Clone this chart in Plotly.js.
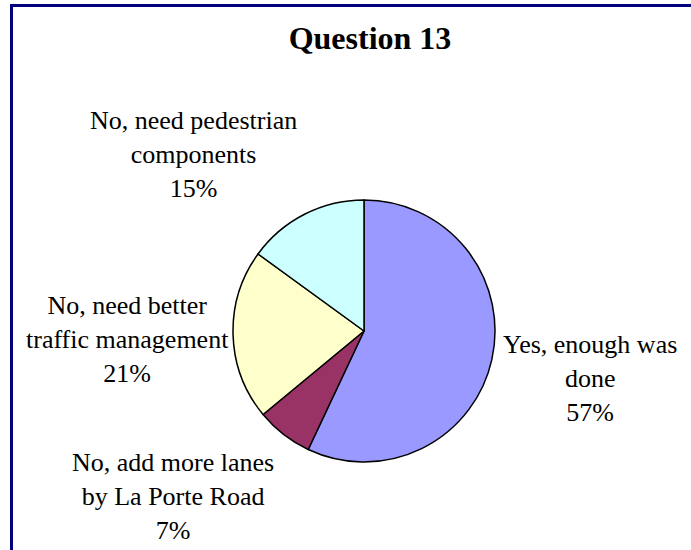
<!DOCTYPE html>
<html>
<head>
<meta charset="utf-8">
<script src="https://cdn.plot.ly/plotly-3.0.1.min.js"></script>
<style>
  html, body { margin: 0; padding: 0; background: #ffffff; }
  #chart { width: 691px; height: 550px; }
</style>
</head>
<body>
<div id="chart"></div>
<script>
// ---- data ----
const chartTitle = 'Question 13';
const labels = [
  'Yes, enough was<br>done',
  'No, add more lanes<br>by La Porte Road',
  'No, need better<br>traffic management',
  'No, need pedestrian<br>components'
];
const values = [57, 7, 21, 15];
const colors = ['#9999FF', '#993366', '#FFFFCC', '#CCFFFF'];

// ---- layout helpers (pixel positions of label blocks) ----
const W = 691, H = 550;
const FONT = 'Liberation Serif';
const labelPos = [
  [590, 378],
  [173, 496],
  [127, 339],
  [193, 154]
];
const total = values.reduce((a, b) => a + b, 0);

const annotations = labels.map((lab, i) => ({
  text: lab + '<br>' + Math.round(values[i] / total * 100) + '%',
  x: labelPos[i][0] / W,
  y: 1 - labelPos[i][1] / H,
  xref: 'paper', yref: 'paper',
  xanchor: 'center', yanchor: 'middle',
  showarrow: false,
  align: 'center',
  font: { family: FONT, size: 26, color: '#000000' }
}));

const cx = 364, cy = 331, r = 131;

const trace = {
  type: 'pie',
  labels: labels,
  values: values,
  sort: false,
  direction: 'clockwise',
  rotation: 0,
  marker: { colors: colors, line: { color: '#000000', width: 1.5 } },
  textinfo: 'none',
  hoverinfo: 'label+percent',
  showlegend: false,
  domain: { x: [(cx - r) / W, (cx + r) / W], y: [1 - (cy + r) / H, 1 - (cy - r) / H] }
};

const layout = {
  width: W, height: H,
  margin: { l: 0, r: 0, t: 0, b: 0 },
  paper_bgcolor: '#ffffff',
  showlegend: false,
  title: {
    text: '<b>' + chartTitle + '</b>',
    x: 370 / W, xanchor: 'center', xref: 'paper',
    y: 1 - 38 / H, yanchor: 'middle', yref: 'container',
    font: { family: FONT, size: 32, color: '#000000' }
  },
  annotations: annotations,
  shapes: [
    { type: 'line', xref: 'paper', yref: 'paper', x0: 10 / W, x1: 1, y0: 1 - 5.5 / H, y1: 1 - 5.5 / H,
      line: { color: '#000080', width: 3 } },
    { type: 'line', xref: 'paper', yref: 'paper', x0: 11.5 / W, x1: 11.5 / W, y0: 1 - 4 / H, y1: 0,
      line: { color: '#000080', width: 3 } }
  ]
};

Plotly.newPlot('chart', [trace], layout, { displayModeBar: false, staticPlot: true });
</script>
</body>
</html>
